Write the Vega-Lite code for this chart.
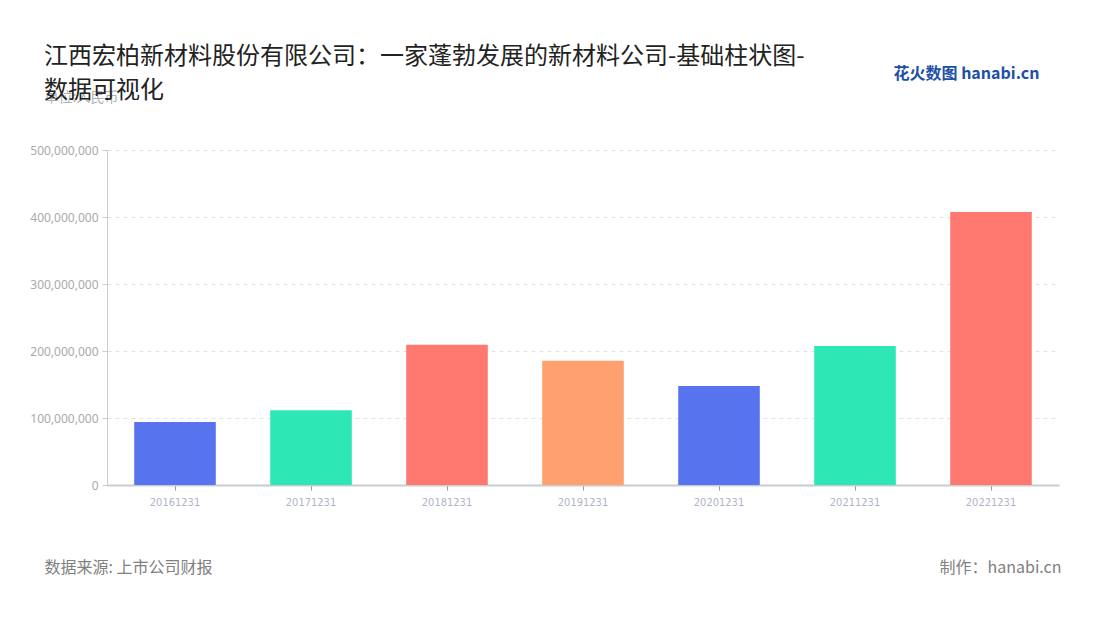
{
  "$schema": "https://vega.github.io/schema/vega-lite/v6.json",
  "autosize": "none",
  "width": 952,
  "height": 335,
  "padding": {"left": 107, "top": 150, "right": 41, "bottom": 135},
  "background": "white",
  "title": {
    "text": ["江西宏柏新材料股份有限公司：一家蓬勃发展的新材料公司-基础柱状图-", "数据可视化"],
    "anchor": "start",
    "frame": "group",
    "dx": -63,
    "offset": -38,
    "font": "Noto Sans CJK SC",
    "fontSize": 24,
    "fontWeight": "normal",
    "color": "#222222",
    "lineHeight": 34
  },
  "data": {
    "values": [
      {"date": "20161231", "value": 94000000},
      {"date": "20171231", "value": 111500000},
      {"date": "20181231", "value": 209400000},
      {"date": "20191231", "value": 185500000},
      {"date": "20201231", "value": 147800000},
      {"date": "20211231", "value": 207500000},
      {"date": "20221231", "value": 407500000}
    ]
  },
  "config": {
    "view": {"stroke": null},
    "font": "Noto Sans CJK SC"
  },
  "resolve": {"axis": {"x": "independent", "y": "independent"}},
  "layer": [
    {
      "mark": {"type": "bar"},
      "encoding": {
        "x": {
          "field": "date",
          "type": "nominal",
          "sort": null,
          "scale": {"paddingInner": 0.4, "paddingOuter": 0.2},
          "axis": {
            "title": "数据来源: 上市公司财报",
            "titleX": -63,
            "titleY": 82,
            "titleAlign": "left",
            "titleBaseline": "middle",
            "titleFont": "Noto Sans CJK SC",
            "titleFontSize": 16,
            "titleFontWeight": "normal",
            "titleColor": "#808080",
            "labelAngle": 0,
            "labelFont": "DejaVu Sans Condensed, Noto Sans",
            "labelFontSize": 11,
            "labelColor": "#b0b4c6",
            "labelPadding": 6,
            "domainColor": "#cccccc",
            "domainWidth": 2,
            "tickColor": "#999999",
            "tickSize": 5,
            "grid": false
          }
        },
        "y": {
          "field": "value",
          "type": "quantitative",
          "scale": {"domain": [0, 500000000], "nice": false},
          "axis": {
            "title": "单位:人民币",
            "titleAngle": 0,
            "titleX": -63,
            "titleY": -53,
            "titleAlign": "left",
            "titleBaseline": "middle",
            "titleFontSize": 14,
            "titleFontWeight": "normal",
            "titleColor": "#b0b0b0",
            "format": ",d",
            "values": [0, 100000000, 200000000, 300000000, 400000000, 500000000],
            "labelOverlap": false,
            "labelFont": "Noto Sans",
            "labelFontSize": 12,
            "labelColor": "#aaaaaa",
            "labelPadding": 4,
            "domainColor": "#cccccc",
            "domainWidth": 1,
            "tickColor": "#cccccc",
            "tickSize": 5,
            "grid": true,
            "gridColor": "#e3e3e3",
            "gridDash": [4, 4],
            "gridWidth": 1
          }
        },
        "color": {
          "field": "date",
          "type": "nominal",
          "scale": {
            "domain": ["20161231", "20171231", "20181231", "20191231", "20201231", "20211231", "20221231"],
            "range": ["#5873EE", "#2DE8B4", "#FF7870", "#FFA070", "#5873EE", "#2DE8B4", "#FF7870"]
          },
          "legend": null
        }
      }
    },
    {
      "mark": {"type": "bar", "opacity": 0},
      "encoding": {
        "x": {
          "field": "date",
          "type": "nominal",
          "sort": null,
          "axis": {
            "orient": "top",
            "title": "花火数图 hanabi.cn",
            "titleX": 786,
            "titleY": -77,
            "titleAlign": "left",
            "titleBaseline": "middle",
            "titleFontSize": 16,
            "titleFontWeight": "bold",
            "titleColor": "#1E4FA8",
            "labels": false,
            "ticks": false,
            "domain": false,
            "grid": false
          }
        },
        "y": {
          "field": "value",
          "type": "quantitative",
          "axis": {
            "orient": "right",
            "title": "制作：hanabi.cn",
            "titleAngle": 0,
            "titleX": 2,
            "titleY": 417,
            "titleAlign": "right",
            "titleBaseline": "middle",
            "titleFontSize": 16,
            "titleFontWeight": "normal",
            "titleColor": "#808080",
            "labels": false,
            "ticks": false,
            "domain": false,
            "grid": false
          }
        }
      }
    }
  ]
}
